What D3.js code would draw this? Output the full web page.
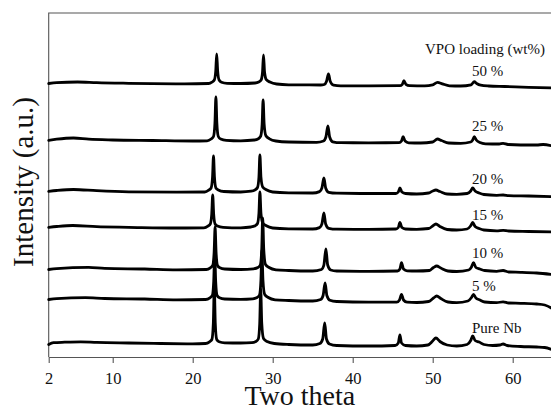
<!DOCTYPE html>
<html>
<head>
<meta charset="utf-8">
<script src="https://cdn.jsdelivr.net/npm/d3@7"></script>
<style>
  html, body { margin: 0; padding: 0; background: #fff; }
  svg { display: block; }
</style>
</head>
<body>
<div id="chart"></div>
<script>
// XRD patterns, [2theta, intensity above the trace's own baseline] (a.u.)
var pureNb = [[2.0,-1.5],[2.6,0.3],[4,0.8],[6,1.2],[8,0.6],[12,0],[16,-0.5],[20,-0.8],[21.6,-0.5],
  [22.1,1.2],[22.4,3.5],[22.58,20],[22.7,56],[22.82,20],[23.0,3.5],[23.3,1.2],[24,0.2],[26,0],[27.4,0.4],
  [27.9,1.5],[28.2,4],[28.38,20],[28.5,54],[28.63,20],[28.85,4.5],[29.3,1.5],[30.2,-0.5],[32,-1.5],[35,-2],
  [35.9,-0.5],[36.25,4],[36.5,20],[36.72,4],[37.1,-1],[38,-2.5],[42,-3],[45.3,-2.5],
  [45.7,0],[45.9,8],[46.1,0],[46.6,-2.5],[48,-3],[49.4,-2],[50.0,2],[50.4,5],[50.9,1.5],[51.8,-2],[53,-3],
  [54.3,-1.5],[54.75,2.5],[55.0,7],[55.3,2.5],[55.8,1],[56.4,-1.5],[57.5,-2.5],[58.4,-2],[58.8,-1],[59.3,-2.5],
  [61,-3.5],[63,-4],[64,-4.5],[65,-7]];

var vpo5 = [[2,-0.5],[3,0.3],[6.6,1.3],[9,0.5],[14,0],[18,-0.8],[21.6,-0.5],
  [22.15,1.2],[22.45,3.5],[22.63,18],[22.75,47],[22.87,18],[23.05,3.5],[23.35,1.2],[24,0],[26,-0.3],[27.5,0.2],
  [28.05,1.5],[28.35,4],[28.53,19],[28.65,49],[28.78,19],[29.0,4.5],[29.45,1.5],[30.3,-0.8],[32,-1.5],[35,-2],
  [36.0,-0.5],[36.3,3.5],[36.55,16],[36.77,3.5],[37.15,-1.2],[38,-2.5],[42,-3.2],[45.5,-3.2],
  [45.85,-1],[46.1,4.7],[46.35,-1],[46.8,-3.2],[48,-3.5],[49.5,-2.5],[50.1,1],[50.5,3],[51,0.5],[51.9,-3],[53,-3.7],
  [54.4,-2],[54.85,1.5],[55.1,4.7],[55.4,1],[55.9,-1],[56.5,-3],[58,-3.7],[58.8,-2.8],[59.5,-4],
  [61,-4.3],[63,-5],[64,-6],[65,-10]];

var vpo10 = [[2,-0.5],[3,0.3],[7,1.6],[9,0.6],[14,0],[18,-0.8],[21.7,-0.5],
  [22.2,1.2],[22.5,3.5],[22.68,17],[22.8,42],[22.92,17],[23.1,3.5],[23.4,1.2],[24,0],[26,-0.5],[27.6,0.2],
  [28.15,1.5],[28.45,4],[28.63,20],[28.75,51],[28.88,20],[29.1,4.5],[29.55,1.5],[30.4,-0.8],[32,-1.5],[35,-2],
  [36.1,-0.5],[36.4,4],[36.65,20],[36.87,4],[37.25,-1],[38,-2],[42,-2.3],[45.6,-2],
  [45.9,0],[46.1,6.3],[46.35,0],[46.8,-1.8],[48,-2],[49.6,-1.5],[50.1,1.5],[50.5,3],[51,1],[51.9,-2],[53,-2.5],
  [54.5,-1],[54.85,2],[55.1,6.3],[55.4,1.5],[55.9,0],[56.5,-1.5],[58,-2.3],[58.8,-1.5],[59.5,-3],
  [61,-3.3],[63,-4],[65,-5.5]];

var vpo15 = [[2,-0.3],[3,0.5],[5,1.5],[8,0.3],[12,-0.3],[18,-1],[21.4,-0.8],
  [21.9,0.8],[22.2,3],[22.38,13],[22.5,32],[22.62,13],[22.8,3],[23.1,1],[23.8,-0.3],[26,-0.8],[27.3,0],
  [27.8,1.2],[28.1,3.5],[28.28,14],[28.4,35],[28.53,14],[28.75,4],[29.2,1.2],[30,-1],[32,-1.8],[35,-2],
  [35.85,-0.6],[36.15,3],[36.4,14],[36.62,3],[37,-1.3],[38,-2.2],[42,-2.3],[45.4,-2],
  [45.7,-0.5],[45.9,4.5],[46.15,-0.5],[46.6,-2],[48,-2.3],[49.5,-1.5],[50,1],[50.4,3],[50.9,0.5],[51.8,-2.5],[53,-3],
  [54.3,-2],[54.75,1.2],[55.0,4.5],[55.3,0.5],[55.8,-1.5],[56.4,-3],[58,-3.8],[58.8,-3.3],[59.5,-4],
  [62,-4.5],[65,-5]];

var vpo20 = [[2,-0.3],[3,0.5],[5.1,1.5],[8,0.3],[12,-0.8],[18,-1.2],[21.5,-1],
  [22.0,0.8],[22.3,3],[22.48,14],[22.6,35],[22.72,14],[22.9,3],[23.2,1],[23.9,-0.5],[26,-1],[27.3,-0.2],
  [27.8,1.2],[28.1,3.5],[28.28,14],[28.4,36],[28.53,14],[28.75,4],[29.2,1.2],[30,-1],[32,-1.8],[35,-2],
  [35.85,-0.6],[36.15,3],[36.4,13],[36.62,3],[37,-1.3],[38,-2.2],[42,-2.5],[45.4,-2.5],
  [45.7,-1],[45.9,3],[46.15,-1],[46.6,-2.5],[48,-3],[49.5,-2],[50,0],[50.4,1],[50.9,-0.5],[51.8,-3],[53,-3.3],
  [54.3,-2.5],[54.75,0],[55.0,3],[55.3,0],[55.8,-2],[56.4,-3.5],[58,-4.3],[58.8,-4],[59.5,-4.6],
  [62,-5],[65,-5.7]];

var vpo25 = [[2,-0.3],[3,0.8],[5.1,2],[7,0.8],[10,0],[15,-0.5],[20,-1],[21.8,-0.8],
  [22.3,1],[22.6,3.5],[22.78,17],[22.9,43],[23.02,17],[23.2,3.5],[23.5,1],[24.2,-0.3],[26,-0.8],[27.7,0],
  [28.2,1.2],[28.5,3.8],[28.68,16],[28.8,40],[28.93,16],[29.15,4.2],[29.6,1.2],[30.4,-1],[32,-2],[35.5,-2.3],
  [36.35,-1],[36.65,3],[36.9,14],[37.12,3],[37.5,-1.8],[38.5,-2.7],[42,-2.8],[45.8,-2.7],
  [46.1,-1],[46.3,3.3],[46.55,-1],[47,-2.8],[48.5,-3],[50,-2],[50.6,1],[51.1,-0.5],[52,-3],[53.5,-3.3],
  [54.75,-2],[55.0,0],[55.2,3.3],[55.45,0],[55.9,-2.5],[56.6,-3.8],[58.3,-4],[58.8,-3.3],[59.4,-4.5],
  [61,-5],[63,-5],[63.8,-4.5],[65,-6]];

var vpo50 = [[2,-0.5],[3,0.3],[5.6,1],[8,0.3],[12,-0.3],[19,-0.8],[22,-0.5],
  [22.4,0.8],[22.7,3],[22.88,12],[23.0,29],[23.12,12],[23.3,3],[23.6,0.8],[24.3,-0.3],[26,-0.5],[27.8,0],
  [28.25,1],[28.55,3],[28.73,11],[28.85,28],[28.98,11],[29.2,3.3],[29.65,1],[30.5,-1],[32,-1.8],[36,-2],
  [36.45,-1.5],[36.72,1.5],[36.97,9],[37.2,1.5],[37.6,-2.2],[38.5,-2.8],[42,-2.8],[45.9,-2.7],
  [46.2,-1.3],[46.4,2.3],[46.65,-1.3],[47.1,-2.6],[49,-2.8],[50,-1.8],[50.6,0.7],[51.2,-0.8],[52.1,-2.8],[53.5,-3],
  [54.8,-1.8],[55.2,1.3],[55.5,-0.5],[56,-2.2],[57,-3],[59,-3.5],[62,-4.3],[65,-5]];

var seriesNames = ["Pure Nb", "5 %", "10 %", "15 %", "20 %", "25 %", "50 %"];
var seriesData = [pureNb, vpo5, vpo10, vpo15, vpo20, vpo25, vpo50];
// vertical stacking offset of each pattern (a.u.)
var seriesOffset = [14, 58, 88, 130, 166, 217, 274];
var xTicks = [2, 10, 20, 30, 40, 50, 60];

// ---- layout ----
var W = 551, H = 411;
var plotLeft = 48.7, plotTop = 13, plotBottom = 357;
var serif = "'Liberation Serif', 'Times New Roman', serif";
// label baseline above each pattern offset
var labelLift = [10, 8, 11, 7.5, 7, 9, 7.5];
var labelAt = 54.9;

var svg = d3.select("#chart").append("svg")
  .attr("width", W).attr("height", H);

var x = d3.scaleLinear().domain([2, 65]).range([plotLeft, plotLeft + 63 * 8]);
var y = d3.scaleLinear().domain([0, 344]).range([plotBottom, plotTop]);

// frame (top + left)
svg.append("path")
  .attr("d", "M" + plotLeft + "," + plotBottom + "V" + plotTop + "H" + W)
  .attr("fill", "none")
  .attr("stroke", "#555")
  .attr("stroke-width", 1.1);

// bottom axis
var xAxis = svg.append("g")
  .attr("transform", "translate(0," + plotBottom + ")")
  .call(d3.axisBottom(x).tickValues(xTicks).tickFormat(d3.format("d"))
    .tickSize(6).tickSizeOuter(0).tickPadding(9.3));
xAxis.select(".domain").attr("stroke", "#555").attr("stroke-width", 1.1);
xAxis.selectAll(".tick line").attr("stroke", "#555").attr("stroke-width", 1.1);
xAxis.selectAll(".tick text")
  .attr("font-family", serif).attr("font-size", 16.5).attr("fill", "#111");

// patterns
var line = d3.line()
  .x(function (d) { return x(d[0]); })
  .y(function (d) { return y(d[1]); })
  .curve(d3.curveMonotoneX);

var plot = svg.append("g");
seriesData.forEach(function (pts, i) {
  var shifted = pts.map(function (p) { return [p[0], p[1] + seriesOffset[i]]; });
  plot.append("path")
    .attr("d", line(shifted))
    .attr("fill", "none")
    .attr("stroke", "#000")
    .attr("stroke-width", 2.8)
    .attr("stroke-linejoin", "round")
    .attr("stroke-linecap", "round");

  svg.append("text")
    .attr("x", x(labelAt))
    .attr("y", y(seriesOffset[i] + labelLift[i]))
    .attr("font-family", serif)
    .attr("font-size", 15)
    .attr("fill", "#111")
    .text(seriesNames[i]);
});

svg.append("text")
  .attr("x", 425)
  .attr("y", 53.5)
  .attr("font-family", serif)
  .attr("font-size", 15)
  .attr("fill", "#111")
  .text("VPO loading (wt%)");

// axis titles
svg.append("text")
  .attr("x", (plotLeft + W) / 2)
  .attr("y", 404.5)
  .attr("text-anchor", "middle")
  .attr("font-family", serif)
  .attr("font-size", 28)
  .attr("fill", "#111")
  .text("Two theta");

svg.append("text")
  .attr("transform", "translate(33,182) rotate(-90)")
  .attr("text-anchor", "middle")
  .attr("font-family", serif)
  .attr("font-size", 29)
  .attr("fill", "#111")
  .text("Intensity (a.u.)");
</script>
</body>
</html>
